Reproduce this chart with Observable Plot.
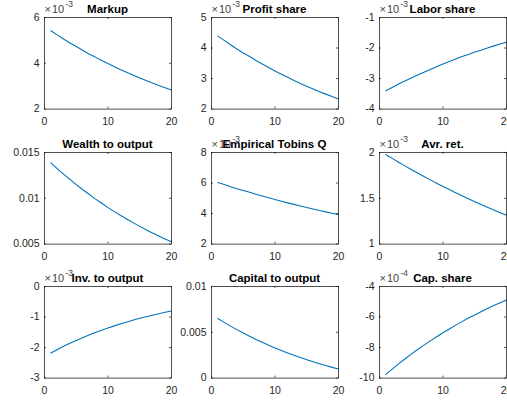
<!DOCTYPE html>
<html><head><meta charset="utf-8">
<script src="https://cdn.jsdelivr.net/npm/d3@7"></script>
<script src="https://cdn.jsdelivr.net/npm/@observablehq/plot@0.6"></script>
<style>
html,body{margin:0;padding:0;background:#fff;overflow:hidden}
#fig{position:relative;width:507px;height:402px;overflow:hidden;background:#fff}
#fig .panel{position:absolute}
</style></head><body><div id="fig"></div>
<script>
const periods = [1,2,3,4,5,6,7,8,9,10,11,12,13,14,15,16,17,18,19,20];
const titles = ["Markup","Profit share","Labor share","Wealth to output","Empirical Tobins Q","Avr. ret.","Inv. to output","Capital to output","Cap. share"];
// values in displayed units (multiplied by 10^exponent shown above the axis)
const markup = [5.42,5.24,5.06,4.89,4.73,4.57,4.41,4.27,4.12,3.99,3.85,3.72,3.60,3.48,3.36,3.25,3.14,3.03,2.93,2.83];
const profitShare = [4.39,4.25,4.11,3.97,3.84,3.72,3.59,3.48,3.36,3.25,3.14,3.04,2.94,2.84,2.75,2.66,2.57,2.49,2.41,2.33];
const laborShare = [-3.40,-3.29,-3.18,-3.08,-2.98,-2.88,-2.79,-2.70,-2.61,-2.52,-2.44,-2.36,-2.28,-2.21,-2.13,-2.07,-2.00,-1.93,-1.87,-1.81];
const wealthToOutput = [0.01387,0.013245,0.01264,0.01206,0.0115,0.01096,0.01044,0.00994,0.009455,0.008985,0.008545,0.00812,0.00771,0.007315,0.006935,0.00657,0.00622,0.005885,0.005565,0.005255];
const tobinsQ = [6.03,5.90,5.76,5.63,5.51,5.39,5.27,5.15,5.03,4.92,4.81,4.70,4.60,4.50,4.40,4.30,4.20,4.11,4.02,3.93];
const avrRet = [1.978,1.936,1.894,1.854,1.815,1.776,1.738,1.701,1.665,1.630,1.595,1.561,1.528,1.495,1.463,1.432,1.402,1.372,1.343,1.314];
const invToOutput = [-2.18,-2.07,-1.96,-1.86,-1.77,-1.68,-1.59,-1.51,-1.43,-1.36,-1.29,-1.22,-1.16,-1.10,-1.04,-0.99,-0.94,-0.89,-0.845,-0.80];
const capitalToOutput = [0.0065,0.00608,0.005675,0.00529,0.00492,0.004565,0.004225,0.0039,0.00359,0.003295,0.003015,0.002745,0.00249,0.002245,0.00201,0.001785,0.00157,0.001365,0.00117,0.000985];
const capShare = [-9.76,-9.41,-9.07,-8.75,-8.43,-8.13,-7.84,-7.56,-7.29,-7.03,-6.78,-6.53,-6.30,-6.07,-5.86,-5.65,-5.44,-5.25,-5.06,-4.88];
const series = [markup,profitShare,laborShare,wealthToOutput,tobinsQ,avrRet,invToOutput,capitalToOutput,capShare];
const exponents = ["-3","-3","-3",null,"-3","-3","-3",null,"-4"];
const yDomains = [[2,6],[2,5],[-4,-1],[0.005,0.015],[2,8],[1,2],[-3,0],[0,0.01],[-10,-4]];
const yTicks = [[2,4,6],[2,3,4,5],[-4,-3,-2,-1],[0.005,0.01,0.015],[2,4,6,8],[1,1.5,2],[-3,-2,-1,0],[0,0.005,0.01],[-10,-8,-6,-4]];
const xDomain = [0,20];
const xTicks = [0,10,20];

const colLeft = [43.7,210.7,379];
const rowTop = [17.3,152.3,285.7];
const innerW = 127, innerH = 91.6;
const ML = 44, MR = 8, MT = 22, MB = 22;
const TL = 2;
const FONT = "'Liberation Sans', Arial, Helvetica, sans-serif";
const INK = "#262626";

const fig = document.getElementById("fig");
series.forEach((vals, i) => {
  const r = Math.floor(i/3), c = i%3;
  const data = periods.map((p, k) => ({x: p, y: vals[k]}));
  const svg = Plot.plot({
    width: innerW+ML+MR, height: innerH+MT+MB,
    marginLeft: ML, marginRight: MR, marginTop: MT, marginBottom: MB,
    style: {fontFamily: FONT, fontSize: "10.5px", color: INK, background: "transparent", overflow: "visible"},
    x: {domain: xDomain},
    y: {domain: yDomains[i]},
    marks: [
      Plot.line(data, {x: "x", y: "y", stroke: "#0072BD", strokeWidth: 1.1}),
      Plot.frame({stroke: INK, strokeWidth: 0.8}),
      Plot.tickX(xTicks, {x: d => d, insetTop: innerH - TL, stroke: INK, strokeWidth: 0.8}),
      Plot.tickX(xTicks, {x: d => d, insetBottom: innerH - TL, stroke: INK, strokeWidth: 0.8}),
      Plot.tickY(yTicks[i], {y: d => d, insetRight: innerW - TL, stroke: INK, strokeWidth: 0.8}),
      Plot.tickY(yTicks[i], {y: d => d, insetLeft: innerW - TL, stroke: INK, strokeWidth: 0.8}),
      Plot.axisX({ticks: xTicks, tickSize: 0, tickPadding: 8, tickFormat: d => String(d), label: null, fill: INK}),
      Plot.axisY({ticks: yTicks[i], tickSize: 0, tickPadding: 5, tickFormat: d => String(d), label: null, fill: INK})
    ]
  });
  svg.classList.add("panel");
  svg.style.left = (colLeft[c] - ML) + "px";
  svg.style.top = (rowTop[r] - MT) + "px";
  const s = d3.select(svg);
  if (exponents[i]) {
    const t = s.append("text").attr("x", ML + 0.5).attr("y", MT - 3.5)
      .attr("text-anchor", "start")
      .attr("font-family", FONT).attr("font-size", 11).attr("fill", "#444");
    t.append("tspan").text("\u00d7");
    t.append("tspan").attr("dx", 1).text("10");
    t.append("tspan").attr("dy", -6).attr("dx", 1).attr("font-size", 9).text(exponents[i]);
  }
  s.append("text").attr("x", ML + innerW/2).attr("y", MT - 4)
    .attr("text-anchor", "middle").attr("font-family", FONT)
    .attr("font-size", 11.5).attr("font-weight", "bold").attr("fill", "#000")
    .text(titles[i]);
  fig.appendChild(svg);
});
</script>
</body></html>
